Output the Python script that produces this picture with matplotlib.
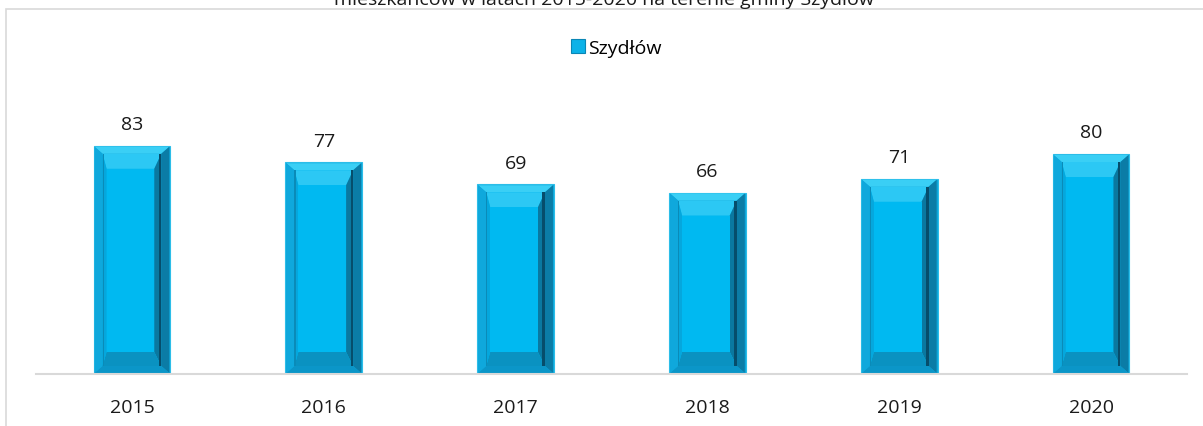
import numpy             as np
import matplotlib
matplotlib.use('Agg')
import matplotlib.pyplot as plt
from matplotlib.patches import Polygon, Rectangle

years  = ['2015', '2016', '2017', '2018', '2019', '2020']
values = [83, 77, 69, 66, 71, 80]
series = 'Szydłów'
title  = 'mieszkańców w latach 2015-2020 na terenie gminy Szydłów'

plt.rcParams['font.family'] = ['Open Sans', 'DejaVu Sans']

W, H, DPI = 1203, 427, 100
fig = plt.figure(figsize = (W / DPI, H / DPI), dpi = DPI)

# chart area frame (grey line on left and top, cut off by the image)
fig.patches.append(Rectangle((6 / W, -0.1), 1.2, 1 - 10 / H + 0.1, transform = fig.transFigure,
                             fill = False, edgecolor = '#d9d9d9', linewidth = 1.2))

fig.text(0.502, 1 - 5 / H, title, ha = 'center', va = 'baseline', fontsize = 14, color = '#1a1a1a')

ax_left, ax_right, ax_bottom, ax_top = 36, 1187, 375, 100
ax = fig.add_axes([ax_left / W, (H - ax_bottom) / H, (ax_right - ax_left) / W, (ax_bottom - ax_top) / H])
ax.set_xlim(-0.5, len(years) - 0.5)
ax.set_ylim(0, 100)

x    = np.arange(len(years))
bars = ax.bar(x, values, width = 0.4, color = '#0ea6da', edgecolor = '#2cbde8', linewidth = 0.8,
              label = series, zorder = 2)

# pixel -> data scale
px_x = len(years) / (ax_right - ax_left)
px_y = 100 / (ax_bottom - ax_top)

def quad(x0, x1, y0, y1, dx, dy):
    return [(x0 + dx * px_x, y1 - dy * px_y), (x1 - dx * px_x, y1 - dy * px_y),
            (x1 - dx * px_x, y0 + dy * px_y), (x0 + dx * px_x, y0 + dy * px_y)]

def frame(a, c, cols):
    for k, col in enumerate(cols):
        pts = [a[k], a[(k + 1) % 4], c[(k + 1) % 4], c[k]]
        ax.add_patch(Polygon(pts, closed = True, facecolor = col, edgecolor = 'none', zorder = 3))

def bevel(b):
    x0, w, h = b.get_x(), b.get_width(), b.get_height()
    x1, y0, y1 = x0 + w, 0, h
    a = quad(x0, x1, y0, y1, 1, 1)
    c = quad(x0, x1, y0, y1, 9, 8)
    # outer frame: top, right, bottom, left
    frame(a, c, ['#3acff5', '#0b7ca6', '#0b96c8', '#0fa8dc'])
    ax.add_patch(Polygon(c, closed = True, facecolor = '#00b7ef', edgecolor = 'none', zorder = 3))
    cx0, cx1 = c[0][0], c[1][0]
    cy0, cy1 = c[2][1], c[0][1]
    d = [(cx0 + 4 * px_x, cy1 - 15 * px_y), (cx1 - 7 * px_x, cy1 - 15 * px_y),
         (cx1 - 7 * px_x, cy0 + 14 * px_y), (cx0 + 4 * px_x, cy0 + 14 * px_y)]
    frame(c, d, ['#2cc8f4', '#0a78a0', '#0a92c1', '#05a7dd'])
    ax.add_patch(Polygon(d, closed = True, facecolor = '#00b9f1', edgecolor = 'none', zorder = 3))
    # dark crease at the inner right edge, softer one at the inner left edge
    ax.add_patch(Rectangle((cx1 - 2.5 * px_x, cy0), 2.5 * px_x, cy1 - cy0,
                           facecolor = '#064d6b', edgecolor = 'none', zorder = 4))
    ax.add_patch(Rectangle((cx0, cy0), 1.2 * px_x, cy1 - cy0,
                           facecolor = '#0a8bb8', edgecolor = 'none', zorder = 4))

for b in bars:
    bevel(b)

for b, v in zip(bars, values):
    ax.annotate(str(v), (b.get_x() + b.get_width() / 2, b.get_height()), xytext = (0, 9),
                textcoords = 'offset points', ha = 'center', va = 'bottom', fontsize = 14, color = '#1a1a1a')

for s in ['top', 'right', 'left']:
    ax.spines[s].set_visible(False)
ax.spines['bottom'].set_color('#d9d9d9')
ax.spines['bottom'].set_linewidth(1.5)
ax.spines['bottom'].set_zorder(5)
ax.set_yticks([])
ax.set_xticks(x)
ax.set_xticklabels(years, fontsize = 14, color = '#1a1a1a')
ax.tick_params(axis = 'x', length = 0, pad = 17)
ax.patch.set_visible(False)

handle = Rectangle((0, 0), 1, 1, facecolor = '#0cb2e8', edgecolor = '#0a86b5', linewidth = 0.8)
fig.legend(handles = [handle], labels = [series], loc = 'center', bbox_to_anchor = (616 / W, 1 - 49 / H),
           frameon = False, fontsize = 14, handlelength = 0.75, handleheight = 0.75, handletextpad = 0.15)

fig.savefig('out.png', dpi = DPI)
